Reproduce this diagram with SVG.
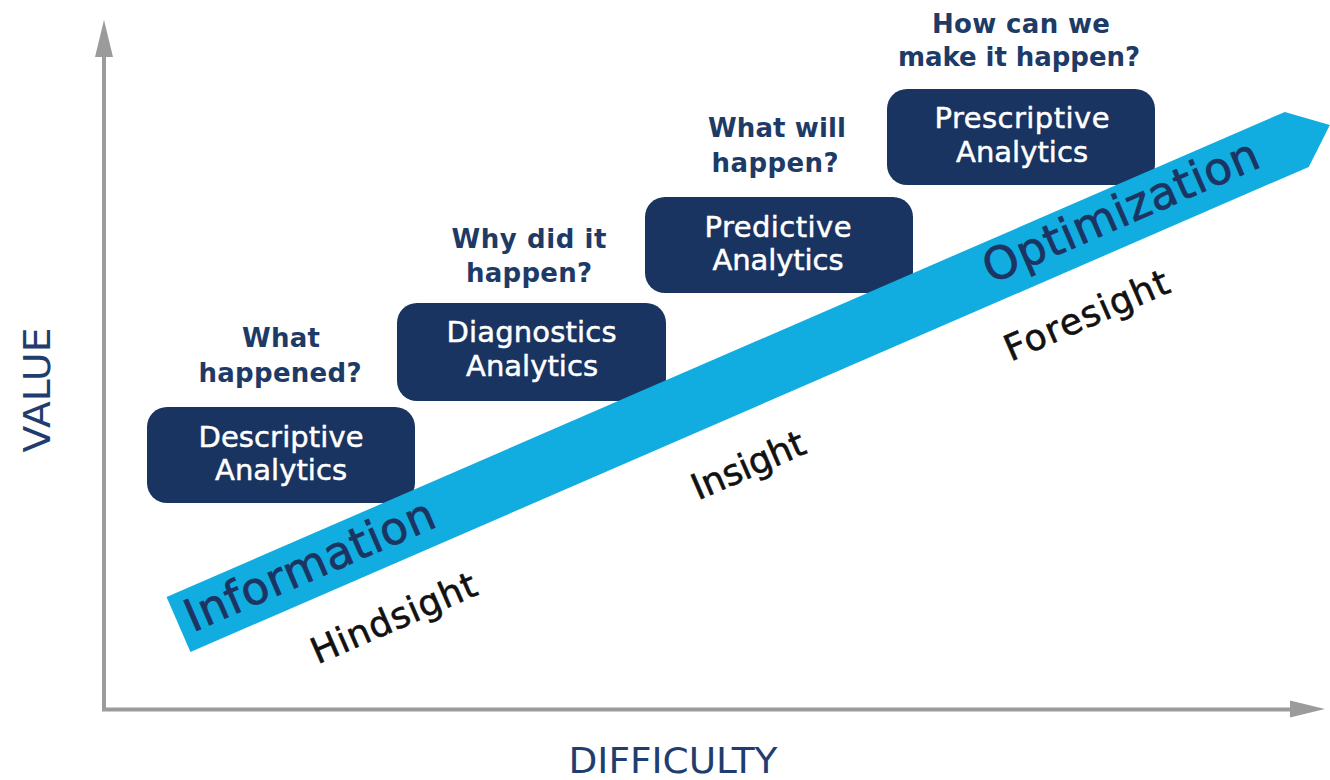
<svg xmlns="http://www.w3.org/2000/svg" width="1330" height="780" viewBox="0 0 1330 780">
<style>
.box{fill:#1a3461}
.bt{font-family:"DejaVu Sans","Liberation Sans",sans-serif;font-size:29px;fill:#ffffff;stroke:#ffffff;stroke-width:0.5;text-anchor:middle}
.q{font-family:"DejaVu Sans","Liberation Sans",sans-serif;font-size:26px;font-weight:bold;fill:#1e3a66;text-anchor:middle}
.ax{stroke:#9b9b9b;stroke-width:4;fill:none}
.axh{fill:#9b9b9b}
.axl{font-family:"DejaVu Sans","Liberation Sans",sans-serif;fill:#1f3d6e;text-anchor:middle}
.big{font-family:"DejaVu Sans","Liberation Sans",sans-serif;font-size:45px;fill:#1b3462;stroke:#1b3462;stroke-width:0.8;text-anchor:middle}
.sight{font-family:"DejaVu Sans","Liberation Sans",sans-serif;font-size:36px;fill:#111111;stroke:#111111;stroke-width:0.6;text-anchor:middle}
</style>
<rect width="1330" height="780" fill="#ffffff"/>
<g id="axes">
<line class="ax" x1="104" y1="711" x2="104" y2="52"/>
<polygon class="axh" points="104,20 95,57 113,57"/>
<line class="ax" x1="102" y1="709.5" x2="1294" y2="709.5"/>
<polygon class="axh" points="1325,709 1290,700.5 1290,717.5"/>
<text class="axl" font-size="38" transform="translate(50,390) rotate(-90)" textLength="125" lengthAdjust="spacingAndGlyphs">VALUE</text>
<text class="axl" font-size="35" x="673" y="773" textLength="209" lengthAdjust="spacingAndGlyphs">DIFFICULTY</text>
</g>
<g id="descriptive">
<text class="q" x="281" y="347" textLength="78">What</text>
<text class="q" x="280" y="382" textLength="163">happened?</text>
<rect class="box" x="147" y="407" width="268" height="96" rx="20"/>
<text class="bt" x="281" y="447" textLength="165">Descriptive</text>
<text class="bt" x="281" y="480" textLength="132">Analytics</text>
</g>
<g id="diagnostics">
<text class="q" x="529" y="248" textLength="155">Why did it</text>
<text class="q" x="529" y="282" textLength="126">happen?</text>
<rect class="box" x="397" y="303" width="269" height="98" rx="20"/>
<text class="bt" x="531.5" y="342" textLength="170">Diagnostics</text>
<text class="bt" x="532" y="376" textLength="132">Analytics</text>
</g>
<g id="predictive">
<text class="q" x="777" y="137" textLength="138">What will</text>
<text class="q" x="775" y="172" textLength="127">happen?</text>
<rect class="box" x="645" y="197" width="268" height="96" rx="20"/>
<text class="bt" x="778" y="237" textLength="147">Predictive</text>
<text class="bt" x="778" y="270" textLength="131">Analytics</text>
</g>
<g id="prescriptive">
<text class="q" x="1021" y="33" textLength="178">How can we</text>
<text class="q" x="1019" y="66" textLength="242">make it happen?</text>
<rect class="box" x="887" y="89" width="268" height="96" rx="20"/>
<text class="bt" x="1022" y="128" textLength="175">Prescriptive</text>
<text class="bt" x="1022" y="162" textLength="132">Analytics</text>
</g>
<g id="trend-arrow" transform="translate(178.5,624.5) rotate(-23.45)">
<polygon fill="#12ade0" points="0,-30 1219,-30 1255,0 1219,30 0,30"/>
<text class="big" x="144" y="13" textLength="268">Information</text>
<text class="big" x="1029" y="11" textLength="296">Optimization</text>
<text class="sight" x="200" y="92" textLength="177">Hindsight</text>
<text class="sight" x="586" y="93" textLength="120">Insight</text>
<text class="sight" x="956" y="90" textLength="176">Foresight</text>
</g>
</svg>
